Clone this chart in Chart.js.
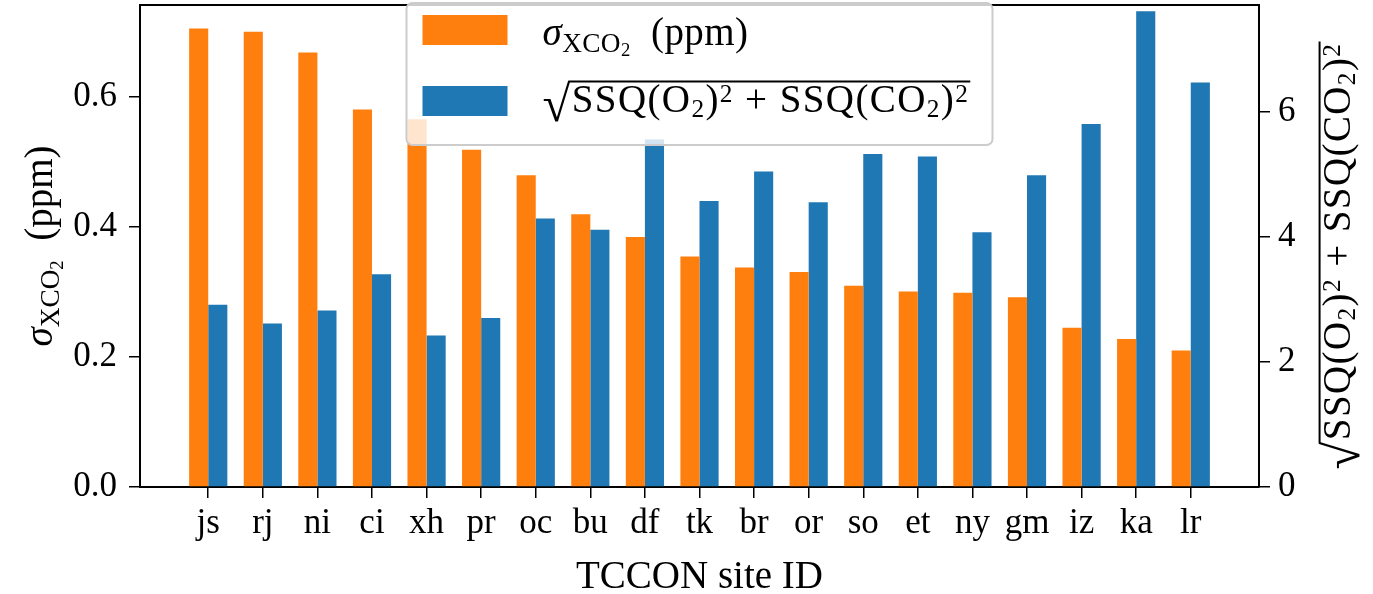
<!DOCTYPE html>
<html>
<head>
<meta charset="utf-8">
<script src="https://cdn.jsdelivr.net/npm/chart.js@4/dist/chart.umd.min.js"></script>
<style>
  html, body { margin: 0; padding: 0; background: #fff; }
  #contenedor { width: 1373px; height: 594px; }
</style>
</head>
<body>
<div id="contenedor"><canvas id="grafica" width="1373" height="594"></canvas></div>
<script>
// ---------- DATOS ----------
const sitios = ['js', 'rj', 'ni', 'ci', 'xh', 'pr', 'oc', 'bu', 'df', 'tk', 'br', 'or', 'so', 'et', 'ny', 'gm', 'iz', 'ka', 'lr'];
const sigmaXco2 = [0.706, 0.701, 0.669, 0.581, 0.566, 0.519, 0.480, 0.420, 0.385, 0.355, 0.338, 0.331, 0.310, 0.301, 0.299, 0.292, 0.245, 0.228, 0.210];
const ssqTotal = [2.91, 2.61, 2.82, 3.40, 2.42, 2.70, 4.29, 4.11, 5.55, 4.57, 5.04, 4.55, 5.32, 5.28, 4.07, 4.98, 5.80, 7.60, 6.46];
const ticksIzq = [0, 0.2, 0.4, 0.6];
const ticksDer = [0, 2, 4, 6];

const FUENTE = '"Liberation Serif", "DejaVu Serif", serif';
const NARANJA = '#ff7f0e';
const AZUL = '#1f77b4';
const TAM_TITULO = 39;
const TAM_TICKS = 35;

// dibuja texto con sub/superindices, partes = [{t, tam, dy, estilo}]
function textoRico(ctx, partes, x, y, alinear, espacio) {
  ctx.letterSpacing = (espacio || 0) + 'px';
  let ancho = 0;
  partes.forEach(p => {
    ctx.font = (p.estilo || '') + ' ' + p.tam + 'px ' + FUENTE;
    p.w = ctx.measureText(p.t).width;
    ancho += p.w;
  });
  let cx = alinear === 'center' ? x - ancho / 2 : x;
  partes.forEach(p => {
    ctx.font = (p.estilo || '') + ' ' + p.tam + 'px ' + FUENTE;
    ctx.fillText(p.t, cx, y + (p.dy || 0));
    p.x = cx;
    cx += p.w;
  });
  ctx.letterSpacing = '0px';
  return { fin: cx };
}

function partesSigma(t) {
  return [
    { t: 'σ', tam: t, estilo: 'italic' },
    { t: 'XCO', tam: t * 0.7, dy: t * 0.17 },
    { t: '2', tam: t * 0.48, dy: t * 0.27 },
    { t: '  (ppm)', tam: t }
  ];
}

function partesRaiz(t) {
  return [
    { t: '√', tam: t * 1.3, dy: t * 0.22 },
    { t: 'SSQ(O', tam: t },
    { t: '2', tam: t * 0.65, dy: t * 0.13 },
    { t: ')', tam: t },
    { t: '2', tam: t * 0.65, dy: -t * 0.25 },
    { t: ' + SSQ(CO', tam: t },
    { t: '2', tam: t * 0.65, dy: t * 0.13 },
    { t: ')', tam: t },
    { t: '2', tam: t * 0.65, dy: -t * 0.25 }
  ];
}

// dibuja la raiz con su barra superior
function dibujarRaiz(ctx, t, x, y, alinear) {
  const partes = partesRaiz(t);
  const r = textoRico(ctx, partes, x, y, alinear, 1.4);
  ctx.font = (t * 1.3) + 'px ' + FUENTE;
  const m = ctx.measureText('√');
  const arriba = y + t * 0.22 - m.actualBoundingBoxAscent;
  ctx.lineWidth = 2;
  ctx.beginPath();
  ctx.moveTo(partes[0].x + m.width - 2, arriba + 1);
  ctx.lineTo(r.fin + 1, arriba + 1);
  ctx.stroke();
}

const pluginDecoracion = {
  id: 'decoracion',
  afterDatasetsDraw(chart) {
    const ctx = chart.ctx;
    const a = chart.chartArea;
    ctx.save();
    // marco superior
    ctx.strokeStyle = '#000';
    ctx.lineWidth = 2;
    ctx.beginPath();
    ctx.moveTo(a.left, a.top);
    ctx.lineTo(a.right, a.top);
    ctx.stroke();

    // leyenda
    const cx = (a.left + a.right) / 2;
    const lx = cx - 293, ly = a.top - 2, lw = 586, lh = 142;
    ctx.fillStyle = 'rgba(255,255,255,0.8)';
    ctx.strokeStyle = '#cccccc';
    ctx.lineWidth = 2;
    ctx.beginPath();
    ctx.roundRect(lx, ly, lw, lh, 6);
    ctx.fill();
    ctx.stroke();
    const ds = chart.data.datasets;
    ctx.fillStyle = ds[0].backgroundColor;
    ctx.fillRect(lx + 16, 15, 85, 30);
    ctx.fillStyle = ds[1].backgroundColor;
    ctx.fillRect(lx + 16, 86, 85, 30);
    ctx.fillStyle = '#000';
    ctx.strokeStyle = '#000';
    ctx.textBaseline = 'alphabetic';
    textoRico(ctx, partesSigma(TAM_TITULO), lx + 136, 45, 'left', 0.4);
    dibujarRaiz(ctx, TAM_TITULO, lx + 136, 112, 'left');

    // titulos de ejes
    ctx.save();
    ctx.translate(52, (a.top + a.bottom) / 2);
    ctx.rotate(-Math.PI / 2);
    textoRico(ctx, partesSigma(TAM_TITULO), 0, 0, 'center');
    ctx.restore();

    ctx.save();
    ctx.translate(1350, 256);
    ctx.rotate(-Math.PI / 2);
    dibujarRaiz(ctx, TAM_TITULO, 0, 0, 'center');
    ctx.restore();

    ctx.font = TAM_TITULO + 'px ' + FUENTE;
    ctx.textAlign = 'center';
    ctx.fillText('TCCON site ID', cx, 588);
    ctx.restore();
  }
};

const fuenteTicks = { family: FUENTE, size: TAM_TICKS };
const sinPadding = eje => { eje.paddingTop = 0; eje.paddingBottom = 0; eje.paddingLeft = 0; eje.paddingRight = 0; };

new Chart(document.getElementById('grafica'), {
  type: 'bar',
  data: {
    datasets: [
      {
        label: 'sigma XCO2 (ppm)',
        data: sitios.map((s, i) => ({ x: i, y: sigmaXco2[i] })),
        backgroundColor: NARANJA,
        borderWidth: 0,
        yAxisID: 'y',
        categoryPercentage: 0.7,
        barPercentage: 1.0
      },
      {
        label: 'sqrt(SSQ(O2)^2 + SSQ(CO2)^2)',
        data: sitios.map((s, i) => ({ x: i, y: ssqTotal[i] })),
        backgroundColor: AZUL,
        borderWidth: 0,
        yAxisID: 'y1',
        categoryPercentage: 0.7,
        barPercentage: 1.0
      }
    ]
  },
  options: {
    responsive: false,
    animation: false,
    devicePixelRatio: 1,
    layout: { padding: { top: 5, left: 0, right: 0, bottom: 0 } },
    plugins: { legend: { display: false }, tooltip: { enabled: false } },
    scales: {
      x: {
        type: 'linear',
        min: -1.25,
        max: 19.25,
        offset: false,
        afterBuildTicks: eje => { eje.ticks = sitios.map((s, i) => ({ value: i })); },
        afterFit: eje => { eje.height = 107; sinPadding(eje); },
        grid: { offset: false, drawOnChartArea: false, tickLength: 11, color: '#000', lineWidth: 1.5 },
        border: { color: '#000', width: 2 },
        ticks: {
          autoSkip: false,
          maxRotation: 0,
          padding: 5,
          color: '#000',
          font: fuenteTicks,
          callback: v => sitios[v]
        }
      },
      y: {
        position: 'left',
        min: 0,
        max: 0.742,
        afterBuildTicks: eje => { eje.ticks = ticksIzq.map(v => ({ value: v })); },
        afterFit: eje => { eje.width = 140; sinPadding(eje); },
        grid: { drawOnChartArea: false, tickLength: 11, color: '#000', lineWidth: 1.5 },
        border: { color: '#000', width: 2 },
        ticks: { padding: 12, color: '#000', font: fuenteTicks, callback: v => v.toFixed(1) }
      },
      y1: {
        position: 'right',
        min: 0,
        max: 7.70,
        afterBuildTicks: eje => { eje.ticks = ticksDer.map(v => ({ value: v })); },
        afterFit: eje => { eje.width = 114; sinPadding(eje); },
        grid: { drawOnChartArea: false, tickLength: 11, color: '#000', lineWidth: 1.5 },
        border: { color: '#000', width: 2 },
        ticks: { padding: 8, color: '#000', font: fuenteTicks, callback: v => String(v) }
      }
    }
  },
  plugins: [pluginDecoracion]
});
</script>
</body>
</html>
